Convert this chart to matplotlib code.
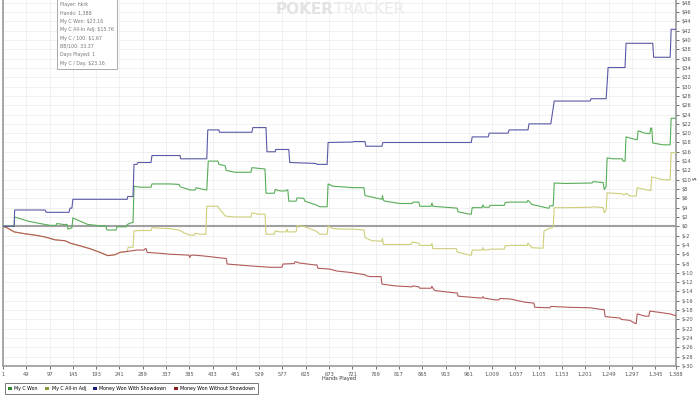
import matplotlib
matplotlib.use("Agg")
import matplotlib.pyplot as plt
from matplotlib.patches import Patch
from matplotlib.ticker import FuncFormatter, MultipleLocator

# data (hands played, dollars)
# a jump is written as two points one hand apart
common_hands = [1, 11, 24, 46, 67, 88, 108, 129, 139, 160, 180, 201, 217, 232, 242, 257]
common_vals = [0, -0.4, -1.2, -1.6, -1.9, -2.3, -2.9, -3.1, -3.6, -4.2, -4.8, -5.6, -6.3, -6.1, -5.6, -5.4]

won_sd_hands = [1, 24, 25, 88, 90, 137, 139, 143, 145, 257, 258, 269, 271, 277, 279, 306, 308, 366, 367,
                421, 423, 446, 447, 514, 516, 543, 545, 562, 563, 590, 592, 646, 648, 669, 671, 722, 724,
                747, 749, 782, 784, 966, 968, 1001, 1003, 1042, 1044, 1083, 1085, 1130, 1137, 1211, 1213,
                1244, 1246, 1248, 1283, 1285, 1340, 1342, 1376, 1378, 1388]
won_sd_vals = [0, 0, 3.5, 3.5, 3.0, 3.0, 3.9, 3.9, 5.8, 5.8, 6.4, 6.4, 13.3, 13.3, 13.7, 13.7, 15.2, 15.2, 14.5,
               14.5, 20.7, 20.7, 20.2, 20.2, 21.2, 21.2, 16.0, 16.0, 16.5, 16.5, 13.7, 13.5, 13.3, 13.3, 18.0, 18.1, 18.2,
               18.2, 17.2, 17.2, 18.0, 18.0, 19.2, 19.2, 20.0, 20.0, 20.7, 20.7, 22.0, 22.0, 26.9, 26.9, 27.4,
               27.4, 30.5, 34.1, 34.1, 39.3, 39.3, 36.3, 36.3, 42.3, 42.3]

won_hands = [1, 24, 25, 53, 67, 98, 110, 112, 125, 133, 135, 141, 143, 145, 160, 176, 201, 213, 215, 234, 236,
             255, 257, 267, 269, 271, 283, 306, 308, 345, 364, 366, 378, 386, 397, 399, 407, 419, 421, 424, 444,
             446, 459, 461, 479, 512, 514, 541, 543, 560, 562, 572, 584, 586, 588, 590, 605, 607, 621, 623, 646,
             654, 669, 671, 681, 696, 722, 745, 747, 782, 783, 785, 788, 819, 844, 846, 858, 860, 883, 885, 887,
             937, 939, 963, 966, 968, 988, 990, 992, 1003, 1005, 1034, 1036, 1046, 1081, 1083, 1091, 1124, 1126,
             1128, 1135, 1137, 1159, 1215, 1217, 1238, 1240, 1244, 1246, 1258, 1277, 1279, 1283, 1285, 1306,
             1308, 1310, 1324, 1334, 1336, 1338, 1340, 1361, 1376, 1378, 1388]
won_vals = [0, 0, 2.0, 1.1, 0.8, 0.2, 0.2, 0.6, 0.4, 0.4, -0.6, -0.4, -0.3, 1.8, 1.1, 0.4, 0.1, 0.1, -0.8, -0.8, -0.1,
            -0.1, 0.4, 0.8, 0.8, 8.6, 8.4, 8.4, 9.1, 9.1, 9.0, 8.5, 8.1, 7.8, 7.8, 8.3, 8.1, 7.8, 7.8, 14.0, 14.0,
            13.3, 13.0, 12.0, 11.6, 11.6, 12.6, 12.3, 7.1, 7.1, 7.9, 7.6, 7.6, 7.8, 7.8, 5.4, 5.4, 6.1, 6.0, 5.4, 4.6,
            4.2, 4.2, 9.1, 8.6, 8.5, 8.3, 8.3, 6.6, 5.8, 6.6, 5.6, 5.4, 4.9, 4.9, 5.2, 5.2, 4.3, 4.3, 5.0, 4.3,
            3.9, 3.1, 2.6, 2.6, 4.0, 4.0, 4.6, 4.1, 4.1, 4.5, 4.5, 5.1, 5.2, 5.2, 5.6, 4.7, 3.9, 3.9,
            4.4, 4.4, 9.3, 9.2, 9.3, 9.6, 9.4, 7.9, 8.5, 14.7, 14.5, 14.5, 14.0, 14.0, 19.2, 18.6,
            18.6, 20.5, 20.0, 19.9, 21.1, 21.1, 17.9, 17.5, 17.5, 23.2, 23.2]

adj_hands = common_hands + [
    259, 269, 271, 283, 306, 308, 345, 364, 376, 386, 395, 397, 407, 419, 421, 444, 446, 459, 479, 512, 514,
    527, 541, 543, 560, 562, 572, 584, 586, 588, 605, 607, 623, 646, 654, 669, 671, 681, 696, 722, 745, 747,
    761, 782, 783, 785, 788, 842, 844, 858, 860, 883, 885, 887, 935, 937, 963, 966, 968, 988, 990, 992, 1003,
    1005, 1034, 1036, 1046, 1081, 1083, 1091, 1114, 1116, 1126, 1133, 1135, 1137, 1159, 1215, 1217, 1238,
    1240, 1244, 1246, 1258, 1277, 1279, 1283, 1285, 1293, 1306, 1308, 1324, 1334, 1336, 1338, 1361, 1376,
    1378, 1388]
adj_vals = common_vals + [
    -4.5, -4.5, -1.0, -0.9, -0.9, -0.3, -0.5, -0.8, -1.5, -1.9, -1.9, -1.5, -1.7, -1.7, 4.3, 4.3, 3.9, 2.2, 2.0, 2.0, 2.9,
    2.6, 2.6, -1.7, -1.7, -1.0, -1.2, -1.2, -0.6, -1.2, -1.2, 0.2, -0.1, -1.0, -1.7, -1.7, 0.1, -0.5, -0.6, -0.6, -0.8, -2.4,
    -3.1, -3.2, -2.6, -3.9, -3.9, -3.9, -3.4, -3.6, -4.1, -4.1, -3.7, -4.8, -4.8, -5.5, -6.2, -6.2, -5.1, -5.1, -4.6, -5.1, -5.0,
    -4.9, -4.9, -4.2, -4.1, -4.1, -3.6, -4.6, -4.7, -1.0, -0.5, -0.3, 0.0, 4.0, 4.0, 4.1, 4.2, 4.0,
    2.9, 3.5, 7.2, 7.1, 7.0, 6.8, 6.8, 7.1, 6.5, 6.5, 8.3, 7.9, 7.7, 7.7, 10.6, 10.0, 10.0,
    15.8, 15.8]

no_sd_hands = common_hands + [
    277, 292, 294, 296, 298, 325, 345, 366, 384, 386, 388, 397, 417, 459, 461, 463, 510, 551, 568, 576, 578,
    601, 603, 613, 644, 648, 650, 675, 689, 716, 747, 749, 757, 780, 782, 809, 844, 846, 858, 860, 883, 885,
    887, 891, 933, 937, 939, 984, 988, 990, 992, 1015, 1023, 1025, 1046, 1077, 1095, 1097, 1128, 1130, 1170,
    1211, 1231, 1240, 1242, 1273, 1275, 1293, 1303, 1306, 1308, 1324, 1332, 1334, 1355, 1375, 1388]
no_sd_vals = common_vals + [
    -5.1, -5.1, -4.8, -4.8, -5.6, -5.8, -6.0, -6.1, -6.2, -6.7, -6.2, -6.2, -6.4, -6.9, -6.9, -8.1, -8.5, -8.8, -8.8, -8.8, -8.1,
    -8.0, -7.6, -7.9, -8.3, -8.3, -9.0, -9.2, -9.6, -9.9, -10.4, -10.6, -10.8, -10.8, -12.4, -12.8, -13.0, -12.8, -13.0, -13.3, -13.3, -12.9,
    -13.3, -13.8, -14.3, -14.3, -15.0, -15.4, -15.4, -15.1, -15.4, -15.8, -15.8, -15.5, -15.6, -16.3, -16.5, -17.4, -17.5, -17.2, -17.4,
    -17.5, -17.8, -17.9, -19.4, -19.7, -20.0, -20.2, -20.8, -20.9, -18.8, -19.3, -19.3, -18.2, -18.5, -18.8, -19.2]

xtick_vals = list(range(1, 1346, 48)) + [1388]
legend_labels = ["My C Won", "My C All-in Adj", "Money Won With Showdown", "Money Won Without Showdown"]
info_lines = ["Player: hkrk", "Hands: 1,388", "My C Won: $23.16", "My C All-In Adj: $15.76",
              "My C / 100: $1.67", "BB/100: 33.37", "Days Played: 1", "My C / Day: $23.16"]

line_cols = ["#58ad58", "#cfcf7a", "#5a5aa6", "#b25a5a"]
box_cols = ["#2e8b2e", "#8a9a3a", "#1c1c78", "#8b1c1c"]

fig = plt.figure(figsize=(7, 3.98), dpi=100)
ax = fig.add_axes([3 / 700, 1 - 366 / 398, 673 / 700, 366 / 398])

ax.plot(won_hands, won_vals, color=line_cols[0], lw=0.8, zorder=4)
ax.plot(adj_hands, adj_vals, color=line_cols[1], lw=0.8, zorder=3)
ax.plot(won_sd_hands, won_sd_vals, color=line_cols[2], lw=0.8, zorder=4)
ax.plot(no_sd_hands, no_sd_vals, color=line_cols[3], lw=0.8, zorder=3)
ax.axhline(0, color="#a0a0a0", lw=1.5, zorder=2)

ax.set_xlim(1, 1388)
ax.set_ylim(-30, 48.6)
ax.set_xticks(xtick_vals)
ax.xaxis.set_major_formatter(FuncFormatter(lambda v, p: "{:,}".format(int(v))))
ax.yaxis.set_major_locator(MultipleLocator(2))
ax.yaxis.set_major_formatter(FuncFormatter(lambda v, p: "$%d" % v))
ax.yaxis.tick_right()
ax.set_xlabel("Hands Played", fontsize=3.6, color="#333333")
ax.xaxis.set_label_coords(0.5, -0.027)
ax.tick_params(axis="both", labelsize=3.7, colors="#555555", length=2.5, width=0.6, pad=1.5)
ax.grid(True, color="#ececec", lw=0.5, zorder=0)

ax.spines["top"].set_visible(False)
for s in ["left", "bottom", "right"]:
    ax.spines[s].set_color("#999999")
    ax.spines[s].set_linewidth(1.2)

# "$" axis title on the right edge
fig.text(695 / 700, 1 - 178 / 398, "$", fontsize=4, color="#333333", rotation=90, ha="center", va="center")

# watermark
fig.text(334 / 700, 1 - 10 / 398, "POKER", fontsize=11, fontweight="bold", color="#e3e3e3",
         ha="right", va="center")
fig.text(334 / 700, 1 - 10 / 398, "TRACKER", fontsize=11, color="#ebebeb", ha="left", va="center")

# stats box
fig.text(60 / 700, 1 - 2 / 398, "\n".join(info_lines), fontsize=3.4, color="#777777", va="top", ha="left",
         linespacing=1.85,
         bbox=dict(boxstyle="square,pad=0.6", fc="white", ec="#aaaaaa", lw=0.7))

handles = [Patch(facecolor=c, edgecolor="none") for c in box_cols]
leg = fig.legend(handles, legend_labels, loc="upper left", bbox_to_anchor=(3 / 700, 1 - 381 / 398), ncol=4,
                 fontsize=3.4, frameon=True, fancybox=False, handlelength=0.8, handleheight=0.8,
                 handletextpad=0.5, columnspacing=1.6, borderpad=0.6, edgecolor="#555555")
leg.get_frame().set_linewidth(0.7)

plt.savefig("out.png", dpi=100)
